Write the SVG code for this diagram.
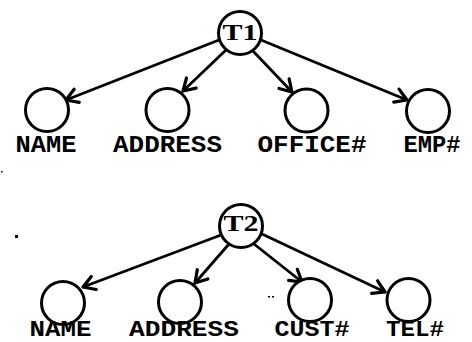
<svg xmlns="http://www.w3.org/2000/svg" width="472" height="342" viewBox="0 0 472 342">
  <defs>
    <marker id="head" markerUnits="userSpaceOnUse" markerWidth="16" markerHeight="16" refX="12" refY="7" orient="auto" overflow="visible">
      <path d="M0.5,0 L12,7 L0.5,14" fill="none" stroke="#000" stroke-width="3.2" stroke-linecap="round" stroke-linejoin="round"/>
    </marker>
    <style>
      .node { fill: #fff; stroke: #000; stroke-width: 3; }
      .edge { stroke: #000; stroke-width: 2.8; fill: none; stroke-linecap: round; marker-end: url(#head); }
      .lbl { font-family: "Liberation Mono", "DejaVu Sans Mono", monospace; font-weight: bold; font-size: 23px; fill: #000; text-anchor: middle; }
      .low { font-size: 22px; }
      .root { font-family: "Liberation Serif", "DejaVu Serif", serif; font-weight: bold; font-size: 23px; fill: #000; text-anchor: middle; }
      .speck { fill: #000; }
    </style>
  </defs>
  <rect width="472" height="342" fill="#fff"/>

  <!-- connectors -->
  <g id="connectors">
    <line class="edge" x1="219" y1="40" x2="66" y2="100"/>
    <line class="edge" x1="226" y1="50" x2="183" y2="91"/>
    <line class="edge" x1="253" y1="51" x2="292" y2="92"/>
    <line class="edge" x1="261" y1="40" x2="407" y2="100"/>

    <line class="edge" x1="221" y1="235" x2="83" y2="287"/>
    <line class="edge" x1="229" y1="244" x2="195" y2="283"/>
    <line class="edge" x1="254" y1="244" x2="302" y2="282"/>
    <line class="edge" x1="262" y1="234" x2="385" y2="292"/>
  </g>

  <!-- first tree -->
  <g id="T1">
    <circle class="node" cx="240" cy="33" r="21.5"/>
    <text class="root" x="240" y="40" textLength="35" lengthAdjust="spacingAndGlyphs">T1</text>
  </g>
  <g id="T1-name">
    <circle class="node" cx="47" cy="110" r="21.5"/>
    <text class="lbl" x="46" y="152" textLength="61" lengthAdjust="spacingAndGlyphs">NAME</text>
  </g>
  <g id="T1-address">
    <circle class="node" cx="167.5" cy="110" r="21.5"/>
    <text class="lbl" x="167.5" y="152" textLength="109" lengthAdjust="spacingAndGlyphs">ADDRESS</text>
  </g>
  <g id="T1-office">
    <circle class="node" cx="306.5" cy="110.5" r="21.5"/>
    <text class="lbl" x="312" y="152" textLength="109" lengthAdjust="spacingAndGlyphs">OFFICE#</text>
  </g>
  <g id="T1-emp">
    <circle class="node" cx="428" cy="111" r="21.5"/>
    <text class="lbl" x="432" y="152" textLength="57" lengthAdjust="spacingAndGlyphs">EMP#</text>
  </g>

  <!-- second tree -->
  <g id="T2">
    <circle class="node" cx="241" cy="226" r="21.5"/>
    <text class="root" x="241" y="231" textLength="35" lengthAdjust="spacingAndGlyphs">T2</text>
  </g>
  <g id="T2-name">
    <circle class="node" cx="63" cy="303" r="21.5"/>
    <text class="lbl low" x="60.5" y="336" textLength="62" lengthAdjust="spacingAndGlyphs">NAME</text>
  </g>
  <g id="T2-address">
    <circle class="node" cx="180" cy="302" r="21.5"/>
    <text class="lbl low" x="184" y="336" textLength="110" lengthAdjust="spacingAndGlyphs">ADDRESS</text>
  </g>
  <g id="T2-cust">
    <circle class="node" cx="310" cy="300" r="21.5"/>
    <text class="lbl low" x="312" y="336" textLength="75" lengthAdjust="spacingAndGlyphs">CUST#</text>
  </g>
  <g id="T2-tel">
    <circle class="node" cx="408.5" cy="300" r="21.5"/>
    <text class="lbl low" x="415" y="336" textLength="58" lengthAdjust="spacingAndGlyphs">TEL#</text>
  </g>

  <!-- loose specks on the sheet -->
  <rect class="speck" x="15" y="235" width="3" height="3"/>
  <rect class="speck" x="268" y="296" width="2" height="1.5"/>
  <rect class="speck" x="272" y="296" width="2" height="1.5"/>
  <rect class="speck" x="1" y="171" width="1.5" height="1.5"/>
</svg>
